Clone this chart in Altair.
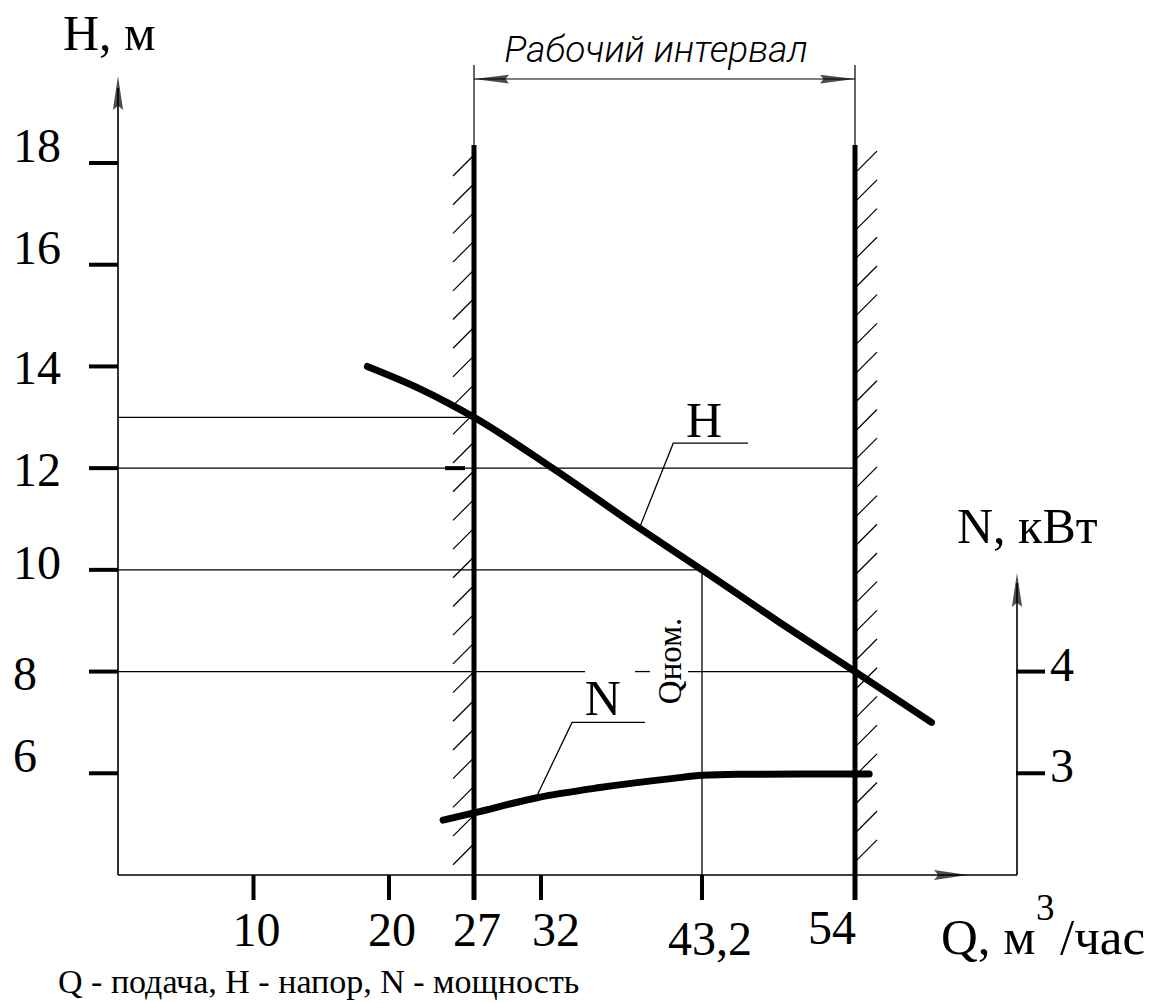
import altair as alt
import pandas as pd

# ---------------- data ----------------
Q_TICKS = [10, 20, 27, 32, 43.2, 54]
Q_TICK_LABELS = ["10", "20", "27", "32", "43,2", "54"]
H_TICKS = [6, 8, 10, 12, 14, 16, 18]
N_TICKS = [3, 4]

# H(Q) head curve
H_CURVE_Q = [18.4, 22.55, 24.8, 27.0, 32.8, 38.9, 43.2, 48.5, 54.0, 59.4]
H_CURVE_H = [14.0, 13.56, 13.29, 13.0, 12.0, 10.81, 10.0, 9.0, 8.0, 7.0]

# N(Q) power curve
N_CURVE_Q = [24.45, 27.0, 31.7, 36.1, 41.2, 43.2, 45.7, 50.1, 55.0]
N_CURVE_N = [2.54, 2.61, 2.76, 2.86, 2.95, 2.98, 2.99, 2.993, 2.993]

Q_WORK = [27, 54]      # working interval limits
Q_NOM = 43.2           # nominal flow
H_NOM = 10

# construction lines (horizontal): from q1 to q2 at level h
HLINE_Q1 = [0, 0, 0, 0, 38.54, 42.23]
HLINE_Q2 = [27, 54, 43.2, 35.06, 39.58, 54]
HLINE_H = [13, 12, 10, 8, 8, 8]

# leader lines for curve labels
H_LEADER_Q = [38.9, 41.2, 46.45]
H_LEADER_H = [10.86, 12.49, 12.49]
N_LEADER_Q = [31.7, 34.16, 39.23]
N_LEADER_N = [2.78, 3.5, 3.5]

# ---------------- scales ----------------
XS = alt.Scale(domain=[0, 10, 20, 27, 32, 43.2, 54],
               range=[110, 245.5, 381, 466, 533, 694, 847], nice=False, zero=False)
YS = alt.Scale(domain=[4, 18], range=[867, 155], nice=False, zero=False)
YN = alt.Scale(domain=[2, 9], range=[867, 155], nice=False, zero=False)

SERIF = "Liberation Serif"
ARROW = "M0,-1L0.3,1L0,0.75L-0.3,1Z"
ARROW_N = "M0,-1L0.25,1L0,0.8L-0.25,1Z"


def X(f):
    return alt.X(f, type="quantitative", scale=XS, axis=None)


def Y(f, s=YS):
    return alt.Y(f, type="quantitative", scale=s, axis=None)


layers = []

# construction lines
df_h = pd.DataFrame({"q1": HLINE_Q1, "q2": HLINE_Q2, "h": HLINE_H})
layers.append(alt.Chart(df_h).mark_rule(color="black", strokeWidth=1.3).encode(
    x=X("q1"), x2="q2", y=Y("h")))
df_v = pd.DataFrame({"q": [Q_NOM], "h1": [4], "h2": [H_NOM]})
layers.append(alt.Chart(df_v).mark_rule(color="black", strokeWidth=1.3).encode(
    x=X("q"), y=Y("h1"), y2="h2"))
# small dash at H=12 left of the interval line
df_d = pd.DataFrame({"q": [Q_WORK[0]], "h": [12]})
layers.append(alt.Chart(df_d).mark_rule(color="black", strokeWidth=4, xOffset=-29, x2Offset=-9).encode(
    x=X("q"), x2="q", y=Y("h")))

# hatching
layers.append(alt.Chart(alt.sequence(0, 25, as_="k")).transform_calculate(
    q=f"{Q_WORK[0]}", h="18.157 - 0.5643*datum.k").mark_rule(
    color="black", strokeWidth=1.2, x2Offset=-21, y2Offset=21).encode(
    x=X("q:Q"), x2="q:Q", y=Y("h:Q"), y2="h:Q"))
layers.append(alt.Chart(alt.sequence(0, 25, as_="k")).transform_calculate(
    q=f"{Q_WORK[1]}", h="17.80 - 0.5643*datum.k").mark_rule(
    color="black", strokeWidth=1.2, x2Offset=22, y2Offset=-22).encode(
    x=X("q:Q"), x2="q:Q", y=Y("h:Q"), y2="h:Q"))

df_w = pd.DataFrame({"q": Q_WORK})
# thick interval boundaries
layers.append(alt.Chart(df_w).mark_rule(color="black", strokeWidth=5).encode(
    x=X("q"), y=alt.value(137), y2=alt.value(892)))
# extension lines
layers.append(alt.Chart(df_w).mark_rule(color="black", strokeWidth=1.2).encode(
    x=X("q"), y=alt.value(57), y2=alt.value(137)))
# dimension line
df_dim = pd.DataFrame({"q1": [Q_WORK[0]], "q2": [Q_WORK[1]]})
layers.append(alt.Chart(df_dim).mark_rule(color="black", strokeWidth=1.2).encode(
    x=X("q1"), x2="q2", y=alt.value(71)))
layers.append(alt.Chart(pd.DataFrame({"q": [Q_WORK[0]]})).mark_point(
    shape=ARROW_N, filled=True, size=1225, color="black", strokeWidth=0, angle=270, xOffset=17.5).encode(
    x=X("q"), y=alt.value(71)))
layers.append(alt.Chart(pd.DataFrame({"q": [Q_WORK[1]]})).mark_point(
    shape=ARROW_N, filled=True, size=1225, color="black", strokeWidth=0, angle=90, xOffset=-17.5).encode(
    x=X("q"), y=alt.value(71)))

# axis lines
one = pd.DataFrame({"a": [0]})
layers.append(alt.Chart(one).mark_rule(color="black", strokeWidth=1.6).encode(
    x=alt.value(110), y=alt.value(867), y2=alt.value(80)))
layers.append(alt.Chart(one).mark_rule(color="black", strokeWidth=1.6).encode(
    x=alt.value(110), x2=alt.value(1009), y=alt.value(867)))
layers.append(alt.Chart(one).mark_rule(color="black", strokeWidth=1.6).encode(
    x=alt.value(1009), y=alt.value(867), y2=alt.value(575)))
# axis arrows
layers.append(alt.Chart(one).mark_point(shape=ARROW, filled=True, size=1156, color="black",
                                        strokeWidth=0).encode(x=alt.value(110), y=alt.value(85)))
layers.append(alt.Chart(one).mark_point(shape=ARROW, filled=True, size=1156, color="black",
                                        strokeWidth=0, angle=90).encode(x=alt.value(943), y=alt.value(867)))
layers.append(alt.Chart(one).mark_point(shape=ARROW, filled=True, size=1156, color="black",
                                        strokeWidth=0).encode(x=alt.value(1009), y=alt.value(582)))

# ticks
layers.append(alt.Chart(pd.DataFrame({"q": Q_TICKS})).mark_rule(color="black", strokeWidth=4).encode(
    x=X("q"), y=alt.value(867), y2=alt.value(892)))
layers.append(alt.Chart(pd.DataFrame({"h": H_TICKS})).mark_rule(color="black", strokeWidth=4).encode(
    y=Y("h"), x=alt.value(81), x2=alt.value(110)))
layers.append(alt.Chart(pd.DataFrame({"n": N_TICKS})).mark_rule(color="black", strokeWidth=4).encode(
    y=Y("n", YN), x=alt.value(1008), x2=alt.value(1037)))

# x tick labels (hand-placed as in the drawing: groups with their own offsets)
df_qt = pd.DataFrame({"q": Q_TICKS, "t": Q_TICK_LABELS})
for flt, kw in [
    ("datum.q <= 27", dict(align="center", dx=3, dy=0)),
    ("datum.q == 32", dict(align="center", dx=15, dy=0)),
    ("datum.q == 43.2", dict(align="center", dx=8, dy=9)),
    ("datum.q == 54", dict(align="right", dx=1, dy=-2)),
]:
    layers.append(alt.Chart(df_qt).transform_filter(flt).mark_text(
        font=SERIF, fontSize=48, baseline="alphabetic", color="black", **kw).encode(
        x=X("q"), y=alt.value(938), text="t:N"))

# y tick labels
df_ht = pd.DataFrame({"h": H_TICKS})
for flt, dy in [
    ("datum.h >= 16 || datum.h == 6", -15),
    ("datum.h == 14 || datum.h == 12 || datum.h == 8", 4),
    ("datum.h == 10", -5),
]:
    layers.append(alt.Chart(df_ht).transform_filter(flt).mark_text(
        font=SERIF, fontSize=48, align="left", baseline="middle", dy=dy, color="black").encode(
        y=Y("h"), x=alt.value(5), text="h:Q"))
layers.append(alt.Chart(pd.DataFrame({"n": N_TICKS})).mark_text(
    font=SERIF, fontSize=48, align="left", baseline="middle", dy=-5, color="black").encode(
    y=Y("n", YN), x=alt.value(1042), text="n:Q"))

# curves
layers.append(alt.Chart(pd.DataFrame({"q": H_CURVE_Q, "h": H_CURVE_H})).mark_line(
    color="black", strokeWidth=7, strokeCap="round", strokeJoin="round", interpolate="monotone").encode(
    x=X("q"), y=Y("h")))
layers.append(alt.Chart(pd.DataFrame({"q": N_CURVE_Q, "n": N_CURVE_N})).mark_line(
    color="black", strokeWidth=7, strokeCap="round", strokeJoin="round", interpolate="monotone").encode(
    x=X("q"), y=Y("n", YN)))

# leaders
layers.append(alt.Chart(pd.DataFrame({"q": H_LEADER_Q, "h": H_LEADER_H, "o": [0, 1, 2]})).mark_line(
    color="black", strokeWidth=1.3).encode(x=X("q"), y=Y("h"), order="o:Q"))
layers.append(alt.Chart(pd.DataFrame({"q": N_LEADER_Q, "n": N_LEADER_N, "o": [0, 1, 2]})).mark_line(
    color="black", strokeWidth=1.3).encode(x=X("q"), y=Y("n", YN), order="o:Q"))

# curve labels
layers.append(alt.Chart(pd.DataFrame({"q": [43.35], "h": [12.61], "t": ["H"]})).mark_text(
    font=SERIF, fontSize=50, align="center", baseline="alphabetic", color="black").encode(
    x=X("q"), y=Y("h"), text="t:N"))
layers.append(alt.Chart(pd.DataFrame({"q": [36.3], "n": [3.57], "t": ["N"]})).mark_text(
    font=SERIF, fontSize=50, align="center", baseline="alphabetic", color="black").encode(
    x=X("q"), y=Y("n", YN), text="t:N"))
layers.append(alt.Chart(pd.DataFrame({"q": [41.04], "h": [8.21], "t": ["Qном."]})).mark_text(
    font=SERIF, fontSize=33, align="center", baseline="middle", angle=270, color="black").encode(
    x=X("q"), y=Y("h"), text="t:N"))


# titles and caption
def label(txt, x, y, size=50, align="left", **kw):
    return alt.Chart(pd.DataFrame({"t": [txt]})).mark_text(
        font=kw.pop("font", SERIF), fontSize=size, align=align, baseline="alphabetic",
        color="black", **kw).encode(x=alt.value(x), y=alt.value(y), text="t:N")


layers.append(label("H, м", 55, 42))
layers.append(label("N, кВт", 949, 535))
layers.append(label("Q, м", 933, 946, size=51))
layers.append(label("3", 1028, 912, size=37))
layers.append(label("/час", 1052, 946, size=51))
layers.append(label("Q - подача, H - напор, N - мощность", 50, 985, size=34))
layers.append(label("Рабочий интервал", 648, 54, size=37, align="center",
                    font="Roboto", fontStyle="italic", fontWeight=300))

chart = alt.layer(*layers).resolve_scale(y="independent").properties(
    width=1138, height=995, padding=0,
    autosize=alt.AutoSizeParams(type="none"), background="white"
).configure_view(strokeWidth=0)

chart.save("out.html", embed_options={"renderer": "svg", "actions": False})
